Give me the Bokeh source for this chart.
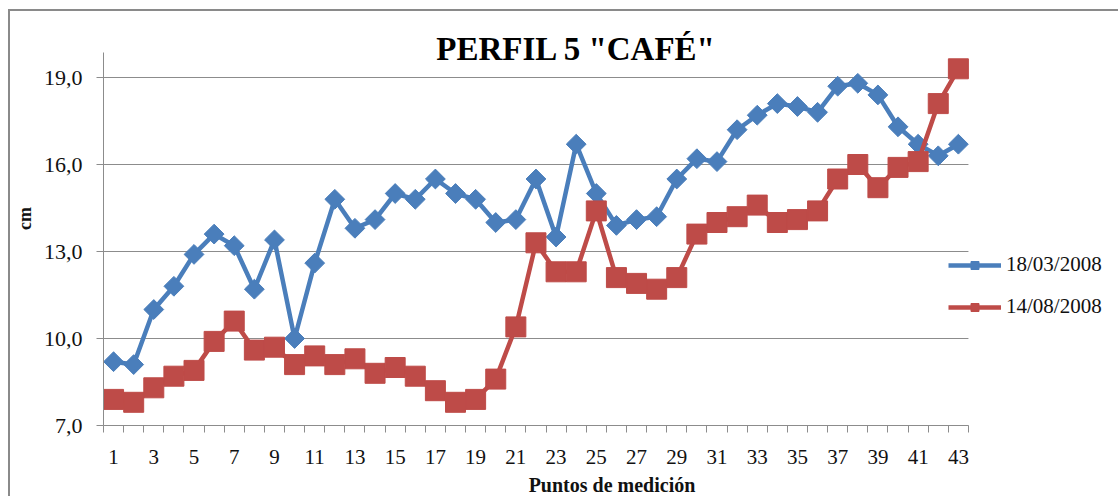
import math

from bokeh.embed import file_html
from bokeh.models import FixedTicker, Label, Legend, LegendItem, Range1d
from bokeh.plotting import figure
from bokeh.resources import INLINE

# Measurement points along the profile
puntos = list(range(1, 44))

# Height (cm) measured on 18/03/2008
marzo = [9.2, 9.1, 11.0, 11.8, 12.9, 13.6, 13.2, 11.7, 13.4, 10.0,
         12.6, 14.8, 13.8, 14.1, 15.0, 14.8, 15.5, 15.0, 14.8, 14.0,
         14.1, 15.5, 13.5, 16.7, 15.0, 13.9, 14.1, 14.2, 15.5, 16.2,
         16.1, 17.2, 17.7, 18.1, 18.0, 17.8, 18.7, 18.8, 18.4, 17.3,
         16.7, 16.3, 16.7]

# Height (cm) measured on 14/08/2008
agosto = [7.9, 7.8, 8.3, 8.7, 8.9, 9.9, 10.6, 9.6, 9.7, 9.1,
          9.4, 9.1, 9.3, 8.8, 9.0, 8.7, 8.2, 7.8, 7.9, 8.6,
          10.4, 13.3, 12.3, 12.3, 14.4, 12.1, 11.9, 11.7, 12.1, 13.6,
          14.0, 14.2, 14.6, 14.0, 14.1, 14.4, 15.5, 16.0, 15.2, 15.9,
          16.1, 18.1, 19.3]

series_labels = ["18/03/2008", "14/08/2008"]
y_ticks = [7, 10, 13, 16, 19]
y_tick_labels = ["7,0", "10,0", "13,0", "16,0", "19,0"]
x_ticks = list(range(1, 44, 2))

# extent of the drawn axes; the frame is larger so title and legend fit inside it
x_bounds = (0.5, 43.5)
y_bounds = (7, 19.86)

BLUE = "#4A7EBB"
RED = "#BE4B48"
GRAY = "#8c8c8c"
SERIF = "Liberation Serif"

p = figure(
    width=1110, height=487,
    output_backend="svg", toolbar_location=None,
    x_range=Range1d(0.5, 51.06), y_range=Range1d(7, 21.276),
    min_border_left=93, min_border_right=0,
    min_border_top=0, min_border_bottom=73,
    background_fill_color="white", border_fill_color="white",
)
p.outline_line_color = None
p.styles = {
    "margin-left": "8px", "margin-top": "9px",
    "border-left": "2px solid #8a8a8a", "border-top": "2px solid #8a8a8a",
}

# horizontal grid lines limited to the axis extent
p.xgrid.visible = False
p.ygrid.visible = False
p.segment(x0=x_bounds[0], x1=x_bounds[1], y0=y_ticks, y1=y_ticks,
          line_color=GRAY, line_width=1.2)

# x axis: labels on odd points, tick marks between categories
p.xaxis.bounds = x_bounds
p.xaxis.ticker = FixedTicker(ticks=x_ticks, minor_ticks=[i + 0.5 for i in range(0, 44)])
p.xaxis.major_tick_out = 0
p.xaxis.major_tick_in = 0
p.xaxis.minor_tick_out = 7
p.xaxis.minor_tick_in = 0
p.xaxis.minor_tick_line_color = GRAY
p.xaxis.axis_line_color = GRAY
p.xaxis.major_label_text_font = SERIF
p.xaxis.major_label_text_font_size = "21px"
p.xaxis.major_label_text_color = "#111111"
p.xaxis.major_label_standoff = 17
p.xaxis.axis_label = "Puntos de medición"
p.xaxis.axis_label_text_font = SERIF
p.xaxis.axis_label_text_font_style = "bold"
p.xaxis.axis_label_text_font_size = "20px"
p.xaxis.axis_label_text_color = "#111111"
p.xaxis.axis_label_standoff = 7

# y axis
p.yaxis.bounds = y_bounds
p.yaxis.ticker = FixedTicker(ticks=y_ticks, minor_ticks=[])
p.yaxis.major_label_overrides = dict(zip(y_ticks, y_tick_labels))
p.yaxis.major_tick_out = 7
p.yaxis.major_tick_in = 0
p.yaxis.major_tick_line_color = GRAY
p.yaxis.axis_line_color = GRAY
p.yaxis.major_label_text_font = SERIF
p.yaxis.major_label_text_font_size = "22px"
p.yaxis.major_label_text_color = "#111111"
p.yaxis.major_label_standoff = 14
p.yaxis.axis_label = "cm"
p.yaxis.axis_label_text_font = SERIF
p.yaxis.axis_label_text_font_style = "bold"
p.yaxis.axis_label_text_font_size = "18px"
p.yaxis.axis_label_text_color = "#111111"
p.yaxis.axis_label_standoff = 6

# series drawn as line + marker
l1 = p.line(puntos, marzo, line_color=BLUE, line_width=4.5)
m1 = p.scatter(puntos, marzo, marker="square", angle=math.pi / 4, size=14,
               fill_color=BLUE, line_color=BLUE)
l2 = p.line(puntos, agosto, line_color=RED, line_width=4.5)
m2 = p.scatter(puntos, agosto, marker="square", size=20,
               fill_color=RED, line_color=RED)

legend = Legend(
    items=[LegendItem(label=series_labels[0], renderers=[l1, m1]),
           LegendItem(label=series_labels[1], renderers=[l2, m2])],
    location=(845, 106),
    glyph_width=53, glyph_height=20, label_standoff=5, spacing=17,
    padding=0, margin=0, border_line_color=None, background_fill_alpha=0,
    label_text_font=SERIF, label_text_font_size="21px", label_text_color="#111111",
)
p.add_layout(legend)

p.add_layout(Label(
    x=473, y=377, x_units="screen", y_units="screen",
    text='PERFIL 5 "CAFÉ"', text_align="center", text_baseline="middle",
    text_font=SERIF, text_font_style="bold", text_font_size="33px",
    text_color="#000000",
))

open("out.html", "w").write(file_html(p, INLINE))
